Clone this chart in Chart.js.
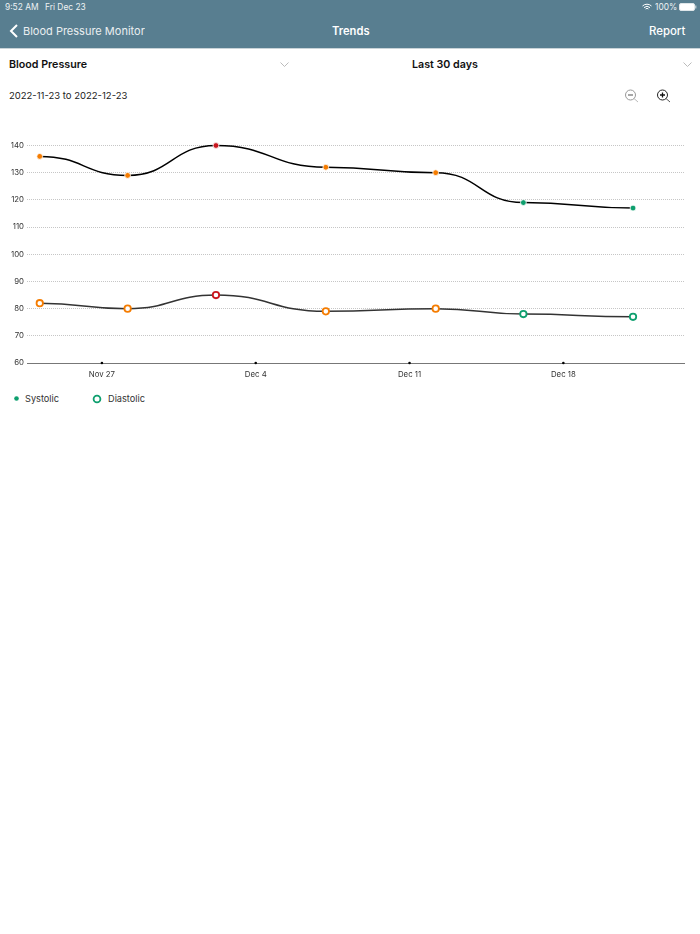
<!DOCTYPE html>
<html>
<head>
<meta charset="utf-8">
<title>Trends</title>
<script src="https://cdn.jsdelivr.net/npm/chart.js@4"></script>
<style>
  html, body { margin: 0; padding: 0; background: #fff; }
  body { width: 700px; height: 934px; position: relative; overflow: hidden; font-family: Inter, "Noto Sans", sans-serif; color: #111; }
  .abs { position: absolute; white-space: nowrap; line-height: 1; }
  #bar { position: absolute; left: 0; top: 0; width: 700px; height: 48px; background: #587e90; border-bottom: 1px solid #c9d3d8; }
  #bar .abs { color: #fff; }
  #chartBox { position: absolute; left: 0; top: 130px; }
  svg { position: absolute; overflow: visible; }
</style>
</head>
<body>
<div id="bar">
  <div class="abs" style="left:5px;top:3px;font-size:8.4px;opacity:.9">9:52 AM</div>
  <div class="abs" style="left:45px;top:3px;font-size:8.4px;opacity:.9">Fri Dec 23</div>
  <div class="abs" style="left:655px;top:3px;font-size:8.4px;opacity:.9">100%</div>
  <svg style="left:642px;top:3px" width="10" height="8" viewBox="0 0 10 8"><path d="M0.5 3a6.5 6.5 0 0 1 9 0M2 4.6a4.4 4.4 0 0 1 6 0M3.6 6a2 2 0 0 1 2.8 0" fill="none" stroke="#fff" stroke-width="1"/></svg>
  <svg style="left:679px;top:3px" width="18" height="8" viewBox="0 0 18 8"><rect x=".5" y=".5" width="15" height="7" rx="1.5" fill="#fff" stroke="#dfe6e9"/><rect x="16.3" y="2.5" width="1" height="3" fill="#dfe6e9"/></svg>
  <svg style="left:9px;top:24px" width="10" height="14" viewBox="0 0 10 14"><path d="M8 1L2 7l6 6" fill="none" stroke="#fff" stroke-width="2"/></svg>
  <div class="abs" style="left:23px;top:26px;font-size:11px;opacity:.88">Blood Pressure Monitor</div>
  <div class="abs" style="left:332px;top:26px;font-size:11.2px;font-weight:600">Trends</div>
  <div class="abs" style="left:649px;top:26px;font-size:11.4px;font-weight:500">Report</div>
</div>
<div class="abs" style="left:9px;top:60px;font-size:10.7px;font-weight:600">Blood Pressure</div>
<div class="abs" style="left:412px;top:60px;font-size:10.7px;font-weight:600">Last 30 days</div>
<svg style="left:280px;top:62px" width="9" height="5" viewBox="0 0 9 5"><path d="M.5 .5l4 4 4-4" fill="none" stroke="#bbb"/></svg>
<svg style="left:683px;top:62px" width="9" height="5" viewBox="0 0 9 5"><path d="M.5 .5l4 4 4-4" fill="none" stroke="#bbb"/></svg>
<div class="abs" style="left:9px;top:91px;font-size:9.5px;color:#222">2022-11-23 to 2022-12-23</div>
<svg style="left:624px;top:89px" width="15" height="14" viewBox="0 0 15 14"><circle cx="6.5" cy="6" r="5" fill="none" stroke="#999"/><path d="M4 6h5" stroke="#777" stroke-width="1.3"/><path d="M10 9.5l4 3.5" stroke="#bbb"/></svg>
<svg style="left:656px;top:89px" width="15" height="14" viewBox="0 0 15 14"><circle cx="6.5" cy="6" r="5" fill="none" stroke="#222"/><path d="M4 6h5M6.5 3.5v5" stroke="#111" stroke-width="1.3"/><path d="M10 9.5l4 3.5" stroke="#555"/></svg>

<div id="chartBox"><canvas id="trendChart" width="700" height="260"></canvas></div>

<svg style="left:13px;top:395px" width="7" height="7"><circle cx="3.5" cy="3.5" r="2.3" fill="#0e9f6e"/></svg>
<div class="abs" id="legendSys" style="left:25px;top:394px;font-size:9.2px;color:#333"></div>
<svg style="left:92px;top:394px" width="10" height="10"><circle cx="5" cy="5" r="3.4" fill="#fff" stroke="#0e9f6e" stroke-width="1.8"/></svg>
<div class="abs" id="legendDia" style="left:108px;top:394px;font-size:9.2px;color:#333"></div>

<script>
// days counted from Nov 27
const readingDays = [-2.83, 1.17, 5.19, 10.19, 15.19, 19.18, 24.17];
const systolic = [136, 129, 140, 132, 130, 119, 117];
const diastolic = [82, 80, 85, 79, 80, 78, 77];
const readingLevels = ['raised', 'raised', 'high', 'raised', 'raised', 'normal', 'normal'];
const seriesNames = ['Systolic', 'Diastolic'];
const tickDays = [0, 7, 14, 21];
const tickLabels = ['Nov 27', 'Dec 4', 'Dec 11', 'Dec 18'];

const levelColors = { normal: '#0e9f6e', raised: '#f57c00', high: '#c8161d' };
const pointColors = readingLevels.map(l => levelColors[l]);

document.getElementById('legendSys').textContent = seriesNames[0];
document.getElementById('legendDia').textContent = seriesNames[1];

function toPoints(values) {
  return values.map((v, i) => ({ x: readingDays[i], y: v }));
}

// the app's curves leave every point flat, so handles are set level
const flatCurves = {
  id: 'flatCurves',
  beforeDatasetDraw(chart, args) {
    const line = args.meta.dataset;
    line.updateControlPoints(chart.chartArea);
    const pts = line.points;
    pts.forEach((p, i) => {
      const prev = pts[i - 1], next = pts[i + 1];
      p.cp1x = prev ? p.x - (p.x - prev.x) / 2 : p.x;
      p.cp1y = p.y;
      p.cp2x = next ? p.x + (next.x - p.x) / 2 : p.x;
      p.cp2y = p.y;
    });
  }
};

// black dots on the baseline at each date tick
const tickDots = {
  id: 'tickDots',
  afterDatasetsDraw(chart) {
    const ctx = chart.ctx, xs = chart.scales.x, y = chart.chartArea.bottom;
    ctx.save();
    ctx.fillStyle = '#000';
    xs.ticks.forEach((t, i) => {
      ctx.beginPath();
      ctx.arc(xs.getPixelForTick(i), y, 1.3, 0, Math.PI * 2);
      ctx.fill();
    });
    ctx.restore();
  }
};

var ctx = document.getElementById('trendChart');
var trendChart = new Chart(ctx, {
  type: 'line',
  data: {
    datasets: [{
      label: seriesNames[0],
      data: toPoints(systolic),
      borderColor: '#000',
      borderWidth: 1.5,
      tension: 0.4,
      clip: false,
      pointRadius: 2.9,
      pointBorderWidth: 0.8,
      pointBorderColor: '#fff',
      pointBackgroundColor: pointColors,
    }, {
      label: seriesNames[1],
      data: toPoints(diastolic),
      borderColor: '#333',
      borderWidth: 1.5,
      tension: 0.4,
      clip: false,
      pointRadius: 3.2,
      pointBorderWidth: 1.8,
      pointBorderColor: pointColors,
      pointBackgroundColor: '#fff',
    }],
  },
  options: {
    responsive: false,
    animation: false,
    layout: { padding: { top: 15.5, right: 16, left: 0, bottom: 0 } },
    plugins: { legend: { display: false }, tooltip: { enabled: false } },
    scales: {
      x: {
        type: 'linear',
        min: -3.41,
        max: 26.49,
        afterBuildTicks(axis) {
          axis.ticks = tickDays.map(d => ({ value: d }));
        },
        afterFit(axis) { axis.height = 27; },
        grid: { display: false, drawTicks: false },
        border: { display: true, color: '#777', width: 1 },
        ticks: {
          autoSkip: false,
          maxRotation: 0,
          padding: 7,
          color: '#333',
          font: { family: 'Inter', size: 7.8 },
          callback: (value) => tickLabels[tickDays.indexOf(value)],
        },
      },
      y: {
        min: 60,
        max: 140,
        afterFit(axis) { axis.width = 27; },
        grid: { color: '#c6c6c6', lineWidth: 1, drawTicks: false },
        border: { display: false, dash: [1, 1] },
        ticks: {
          stepSize: 10,
          padding: 3,
          color: '#333',
          font: { family: 'Inter', size: 7.8 },
        },
      },
    },
  },
  plugins: [flatCurves, tickDots],
});
</script>
</body>
</html>
